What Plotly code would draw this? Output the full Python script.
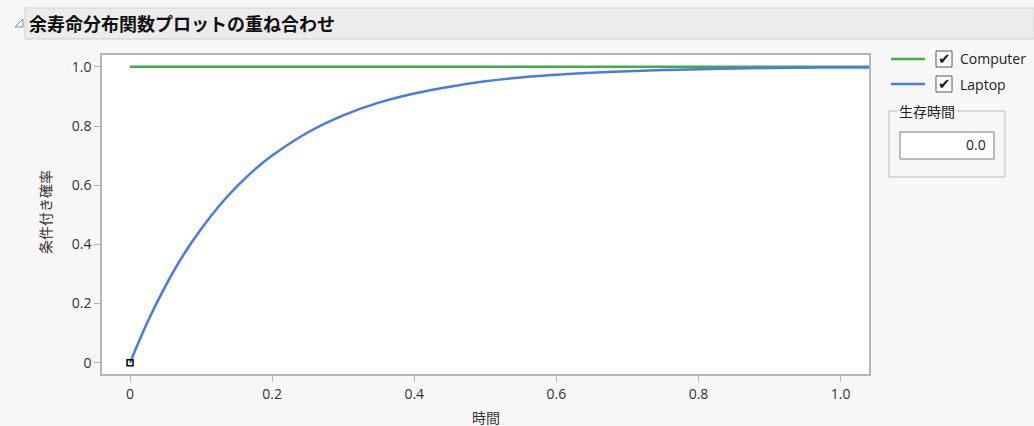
import plotly.graph_objects as go

# ---- data ----
computer_x = [0.0, 1.04]
computer_y = [1.0, 1.0]

laptop_x = [0.0, 0.025, 0.05, 0.075, 0.1, 0.125, 0.15, 0.175, 0.2, 0.25, 0.3, 0.35,
            0.4, 0.45, 0.5, 0.55, 0.6, 0.65, 0.7, 0.75, 0.8, 0.85, 0.9, 0.95, 1.0, 1.04]
laptop_y = [0.0, 0.140, 0.260, 0.364, 0.452, 0.529, 0.595, 0.652, 0.700, 0.778, 0.836, 0.879,
            0.910, 0.933, 0.951, 0.964, 0.973, 0.980, 0.985, 0.989, 0.992, 0.994, 0.996, 0.997, 0.998, 0.998]

tick_vals = [0, 0.2, 0.4, 0.6, 0.8, 1.0]
x_tick_text = ["0", "0.2", "0.4", "0.6", "0.8", "1.0"]
y_tick_text = ["0", "0.2", "0.4", "0.6", "0.8", "1.0"]

series_names = ["Computer", "Laptop"]
series_colors = ["#3fae49", "#4a7be0"]

title_text = "余寿命分布関数プロットの重ね合わせ"
x_title = "時間"
y_title = "条件付き確率"
box_title = "生存時間"
box_value = "0.0"

W, H = 1034, 426
L, R, T, B = 102, 869, 55, 374

def px(x):
    return (x - L) / (R - L)

def py(y):
    return (B - y) / (B - T)

JP = "Noto Sans CJK JP"
NUM = "Open Sans, Noto Sans, sans-serif"

fig = go.Figure()
fig.add_trace(go.Scatter(x=computer_x, y=computer_y, mode="lines",
                         line=dict(color=series_colors[0], width=2.5), name=series_names[0]))
fig.add_trace(go.Scatter(x=laptop_x, y=laptop_y, mode="lines", line_shape="spline",
                         line=dict(color=series_colors[1], width=2.5), name=series_names[1]))
fig.add_trace(go.Scatter(x=[laptop_x[0]], y=[laptop_y[0]], mode="markers",
                         marker=dict(symbol="square-open", size=6, color="black",
                                     line=dict(width=1.5, color="black")),
                         showlegend=False))

shapes = []
annotations = []

# title bar
shapes.append(dict(type="rect", xref="paper", yref="paper",
                   x0=px(25), x1=px(1034), y0=py(39), y1=py(8),
                   fillcolor="#ececec", line=dict(color="#cfcfcf", width=1), layer="below"))
shapes.append(dict(type="path", xref="paper", yref="paper",
                   path=f"M {px(15)},{py(27)} L {px(23)},{py(27)} L {px(23)},{py(19)} Z",
                   fillcolor="rgba(0,0,0,0)", line=dict(color="#8a8a8a", width=1)))
annotations.append(dict(text=f"<b>{title_text}</b>", xref="paper", yref="paper",
                        x=px(27), y=py(23), xanchor="left", yanchor="middle", showarrow=False,
                        font=dict(family=JP, size=18, color="#111111")))

# legend
for i, (name, col) in enumerate(zip(series_names, series_colors)):
    yy = 59 + i * 25
    shapes.append(dict(type="line", xref="paper", yref="paper",
                       x0=px(891), x1=px(925), y0=py(yy), y1=py(yy),
                       line=dict(color=col, width=2.5)))
    shapes.append(dict(type="rect", xref="paper", yref="paper",
                       x0=px(936), x1=px(952), y0=py(yy + 8), y1=py(yy - 8),
                       fillcolor="white", line=dict(color="#555555", width=1)))
    annotations.append(dict(text="✔", xref="paper", yref="paper", x=px(944), y=py(yy),
                            xanchor="center", yanchor="middle", showarrow=False,
                            font=dict(family="DejaVu Sans", size=15, color="#1a1a1a")))
    annotations.append(dict(text=name, xref="paper", yref="paper", x=px(958), y=py(yy),
                            xanchor="left", yanchor="middle", showarrow=False,
                            font=dict(family=NUM, size=14, color="#222222")))

# group box
shapes.append(dict(type="rect", xref="paper", yref="paper",
                   x0=px(889), x1=px(1005), y0=py(177), y1=py(111),
                   fillcolor="rgba(0,0,0,0)", line=dict(color="#bdbdbd", width=1)))
annotations.append(dict(text=box_title, xref="paper", yref="paper", x=px(897), y=py(111),
                        xanchor="left", yanchor="middle", showarrow=False, bgcolor="#f7f7f7",
                        font=dict(family=JP, size=14, color="#222222")))
shapes.append(dict(type="rect", xref="paper", yref="paper",
                   x0=px(900), x1=px(994), y0=py(159), y1=py(132),
                   fillcolor="white", line=dict(color="#7a7a7a", width=1)))
annotations.append(dict(text=box_value, xref="paper", yref="paper", x=px(988), y=py(144),
                        xanchor="right", yanchor="middle", showarrow=False,
                        font=dict(family=NUM, size=14, color="#222222")))

# axis titles
annotations.append(dict(text=y_title, xref="paper", yref="paper", x=px(45), y=py(212),
                        xanchor="center", yanchor="middle", showarrow=False, textangle=-90,
                        font=dict(family=JP, size=14, color="#333333")))
annotations.append(dict(text=x_title, xref="paper", yref="paper", x=0.5, y=py(417),
                        xanchor="center", yanchor="middle", showarrow=False,
                        font=dict(family=JP, size=14, color="#333333")))

fig.update_layout(
    width=W, height=H,
    margin=dict(l=L, r=W - R, t=T, b=H - B, pad=0),
    paper_bgcolor="#f7f7f7", plot_bgcolor="white",
    showlegend=False,
    shapes=shapes, annotations=annotations,
    xaxis=dict(range=[-0.0395, 1.04], tickvals=tick_vals, ticktext=x_tick_text,
               showgrid=False, zeroline=False, showline=True, linecolor="#b5b5b5", linewidth=1.5,
               mirror=True, ticks="outside", ticklen=6, tickcolor="#b5b5b5",
               tickfont=dict(family=NUM, size=14, color="#333333")),
    yaxis=dict(range=[-0.038, 1.04], tickvals=tick_vals, ticktext=y_tick_text,
               showgrid=False, zeroline=False, showline=True, linecolor="#b5b5b5", linewidth=1.5,
               mirror=True, ticks="outside", ticklen=6, tickcolor="#b5b5b5",
               tickfont=dict(family=NUM, size=14, color="#333333")),
)

fig.write_html("out.html", config={"displayModeBar": False},
               post_script="document.body.style.margin='0';document.body.style.background='#f7f7f7';")
